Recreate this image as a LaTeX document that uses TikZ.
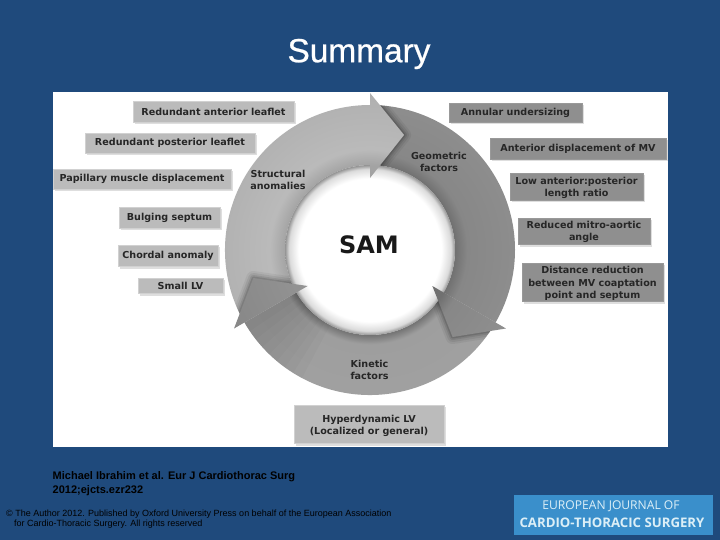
\documentclass[tikz,border=0pt]{standalone}
\usepackage{fontspec}
\setmainfont{Liberation Sans}
\newfontfamily\titlefont[FakeBold=0.7]{Liberation Sans}
\newfontfamily\boxfont{DejaVu Sans}
\newfontfamily\logofont{Open Sans}
\usetikzlibrary{calc}
\definecolor{bgblue}{HTML}{1F4A7C}
\definecolor{logoblue}{HTML}{3A8FCB}
\definecolor{logotext}{HTML}{DCEFF7}
\definecolor{boxlight}{HTML}{BBBBBB}
\definecolor{boxdark}{HTML}{8F8F8F}
\pgfdeclareradialshading{hubshade}{\pgfpoint{0bp}{0bp}}{color(0bp)=(white);color(21bp)=(white);color(23.8bp)=(black!14);color(25bp)=(black!42);color(50bp)=(black!42)}
\pgfdeclareradialshading{ringlight}{\pgfpoint{0bp}{0bp}}{color(0bp)=(black!40);color(13.5bp)=(black!36);color(16bp)=(black!27);color(25bp)=(black!31);color(50bp)=(black!31)}
\pgfdeclareradialshading{ringmid}{\pgfpoint{0bp}{0bp}}{color(0bp)=(black!55);color(13.5bp)=(black!55);color(15bp)=(black!38);color(25bp)=(black!37);color(50bp)=(black!37)}
\pgfdeclareradialshading{ringhd}{\pgfpoint{0bp}{0bp}}{color(0bp)=(black!55);color(11bp)=(black!42);color(25bp)=(black!47);color(50bp)=(black!47)}
\pgfdeclareradialshading{ringdark}{\pgfpoint{0bp}{0bp}}{color(0bp)=(black!60);color(13.5bp)=(black!56);color(15.5bp)=(black!47);color(25bp)=(black!44);color(50bp)=(black!44)}
\tikzset{
  labelbox/.style={inner sep=0pt,line width=.5pt},
  lightbox/.style={labelbox,fill=boxlight,draw=black!18},
  darkbox/.style={labelbox,fill=boxdark,draw=black!40},
  ringtext/.style={font=\boxfont\bfseries\fontsize{9.6}{12.2}\selectfont,text=black!85,align=center,inner sep=0pt},
  softshadow/.style={fill=black,opacity=.13},
  cite/.style={font=\bfseries\fontsize{11}{13}\selectfont,text=black,align=left,inner sep=0pt,anchor=west},
  legal/.style={font=\fontsize{9}{10}\selectfont,text=black,align=left,inner sep=0pt,anchor=west},
}
% #1 left, #2 top, #3 right, #4 bottom, #5 name, #6 style, #7 text y offset (pt, up), #8 text
\newcommand{\labelrect}[8]{%
  \fill[softshadow] (#1+1,#2+1) rectangle (#3+1,#4+1);
  \fill[softshadow] (#1+2,#2+2) rectangle (#3+2,#4+2.5);
  \node[#6,minimum width=#3-#1,minimum height=#4-#2] (#5) at ({(#1+#3)/2},{(#2+#4)/2}) {};
  \node[ringtext,yshift=#7pt] (#5t) at (#5) {#8};}
\begin{document}
\begin{tikzpicture}[x=1pt,y=-1pt]
\useasboundingbox (0,0) rectangle (720,540);
\fill[bgblue] (0,0) rectangle (720,540);
\node[font=\titlefont\fontsize{33.4}{36}\selectfont,text=white,inner sep=0pt] (title) at (359,54) {Summary};
\fill[white] (53,92.5) rectangle (668,447);
\coordinate (c) at (370,250);
\def\Ro{145}\def\Ri{85}\def\Rho{157}\def\Rhi{72}\def\Rt{120}
\newcommand{\annsector}[2]{($(c)+({#1}:\Ro)$) arc[start angle=#1,end angle=#2,radius=\Ro] -- ($(c)+({#2}:\Ri)$) arc[start angle=#2,end angle=#1,radius=\Ri] -- cycle}
\newcommand{\ringbody}[3]{%
  \begin{scope}
  \clip \annsector{#1}{#2};
  \shade[shading=#3] (c) circle[radius=\Rho];
  \end{scope}}
\newcommand{\ringhead}[2]{%
  \begin{scope}[even odd rule]
  \clip (c) circle[radius=\Ro] (c) circle[radius=\Ri];
  \clip (c) -- ($(c)+({#1}:400)$) -- ($(c)+({#1+60}:400)$) -- cycle;
  \foreach \w/\o in {14/.05,10/.07,6/.09,3/.12}{
    \draw[black,opacity=\o,line width=\w pt,line join=round] ($(c)+({#1}:\Rho)$) -- ($(c)+({#1+16.5}:\Rt)$) -- ($(c)+({#1}:\Rhi)$);}
  \end{scope}
  \begin{scope}
  \clip ($(c)+({#1}:\Rho)$) -- ($(c)+({#1+16.5}:\Rt)$) -- ($(c)+({#1}:\Rhi)$) -- cycle;
  \shade[shading=#2] (c) circle[radius=\Rho];
  \end{scope}}
\ringbody{-90}{30}{ringdark}
\ringbody{30}{150}{ringmid}
\ringbody{150}{270}{ringlight}
\foreach \a in {118,122,...,146}{\fill[black,opacity=.02] \annsector{\a}{150};}
\shade[shading=hubshade] (c) circle[radius=\Ri];
\ringhead{-90}{ringlight}
\ringhead{30}{ringdark}
\ringhead{150}{ringhd}
\node[ringtext] (structural) at (278,180) {Structural\\anomalies};
\node[ringtext] (geometric) at (439,162) {Geometric\\factors};
\node[ringtext] (kinetic) at (369.5,370) {Kinetic\\factors};
\node[font=\boxfont\bfseries\fontsize{24}{28}\selectfont,text=black!90,inner sep=0pt] (sam) at (369,245) {SAM};
\labelrect{133}{101}{294}{122}{b1}{lightbox}{0}{Redundant anterior leaflet}
\labelrect{85}{133}{255}{153}{b2}{lightbox}{0}{Redundant posterior leaflet}
\labelrect{53}{169}{231}{189}{b3}{lightbox}{0}{Papillary muscle displacement}
\labelrect{119}{207}{220}{228}{b4}{lightbox}{0}{Bulging septum}
\labelrect{118}{245}{218}{266}{b5}{lightbox}{0}{Chordal anomaly}
\labelrect{138}{278}{223}{293}{b6}{lightbox}{0}{Small LV}
\labelrect{449}{103}{582}{122}{g1}{darkbox}{0}{Annular undersizing}
\labelrect{490}{138}{666}{159}{g2}{darkbox}{0}{Anterior displacement of MV}
\labelrect{510}{173}{643}{200}{g3}{darkbox}{-1.5}{Low anterior:posterior\\length ratio}
\labelrect{518}{218}{650}{244}{g4}{darkbox}{-.5}{Reduced mitro-aortic\\angle}
\labelrect{522}{263}{663}{301}{g5}{darkbox}{-1.5}{Distance reduction\\between MV coaptation\\point and septum}
\labelrect{294}{405}{444}{443}{k1}{lightbox}{-1.5}{Hyperdynamic LV\\(Localized or general)}
\node[cite] (cite1) at (52.5,477) {Michael Ibrahim et al. Eur J Cardiothorac Surg};
\node[cite] (cite2) at (52.5,490.5) {2012;ejcts.ezr232};
\node[legal] (legal1) at (6,514) {© The Author 2012. Published by Oxford University Press on behalf of the European Association};
\node[legal] (legal2) at (14,524) {for Cardio-Thoracic Surgery. All rights reserved};
\fill[logoblue] (514,495) rectangle (713,535);
\node[font=\logofont\fontsize{12.1}{15}\selectfont,text=logotext,inner sep=0pt] (logo1) at (611,506) {EUROPEAN JOURNAL OF};
\node[font=\logofont\bfseries\fontsize{13.2}{15}\selectfont,text=logotext,inner sep=0pt] (logo2) at (612,523) {CARDIO-THORACIC SURGERY};
\end{tikzpicture}
\end{document}
